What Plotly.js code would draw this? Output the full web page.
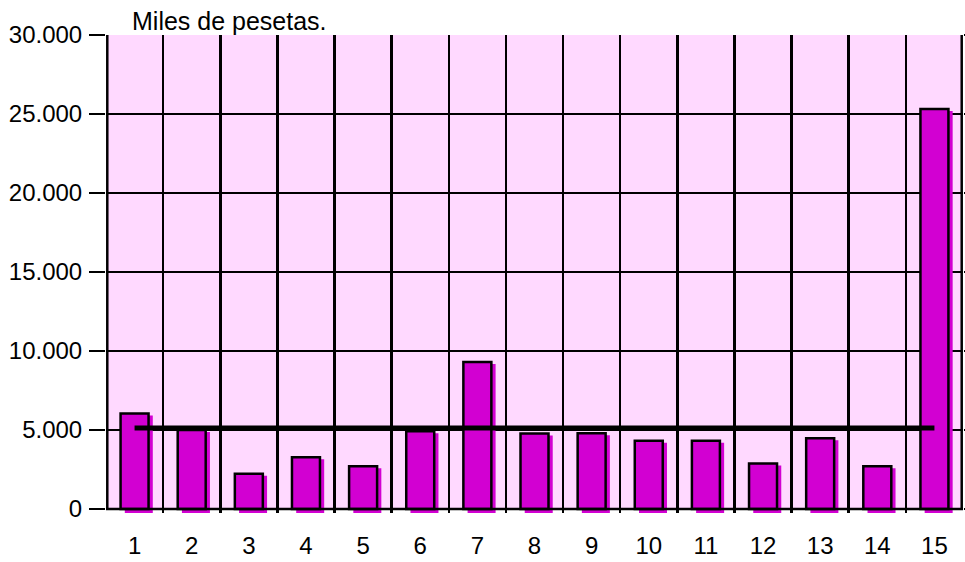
<!DOCTYPE html>
<html>
<head>
<meta charset="utf-8">
<script src="https://cdn.plot.ly/plotly-3.0.1.min.js"></script>
<style>html,body{margin:0;padding:0;background:#fff;}#chart{width:965px;height:562px;}</style>
</head>
<body>
<div id="chart"></div>
<script>
// Data
const categorias = ["1","2","3","4","5","6","7","8","9","10","11","12","13","14","15"];
const valores = [6050, 5000, 2230, 3280, 2710, 4920, 9310, 4780, 4800, 4330, 4330, 2880, 4480, 2710, 25310];
const lineaMedia = [5130, 5130, 5130, 5130, 5130, 5130, 5130, 5130, 5130, 5130, 5130, 5130, 5130, 5130, 5130];
const tituloY = "Miles de pesetas.";
const yTicks = [0, 5000, 10000, 15000, 20000, 25000, 30000];

const yMin = -250, yMax = 30000;
const barColor = "#D200D2";
const bgPink = "#FFD9FF";
const font = {family: "Liberation Sans, Arial, sans-serif", size: 24, color: "#000"};
const titleFont = {family: "Liberation Sans, Arial, sans-serif", size: 25, color: "#000"};

const barW = 0.49;
const shadowTop = valores.map(v => v - 127);

const traces = [
  { // shadow
    type: "bar", x: categorias, y: shadowTop.map(v => v - yMin), base: yMin,
    width: barW, offset: -barW/2 + 0.074,
    marker: {color: barColor, line: {width: 0}},
    hoverinfo: "skip", showlegend: false
  },
  {
    type: "bar", x: categorias, y: valores,
    width: barW, offset: -barW/2,
    marker: {color: barColor, line: {color: "#000", width: 2.5}},
    showlegend: false
  },
  {
    type: "scatter", mode: "lines", x: categorias, y: lineaMedia,
    line: {color: "#000", width: 5},
    showlegend: false
  }
];

const layout = {
  width: 965, height: 562,
  margin: {l: 106, r: 2, t: 35, b: 49, pad: 0},
  paper_bgcolor: "#fff",
  plot_bgcolor: "#fff",
  separators: ",.",
  font: font,
  barmode: "overlay",
  showlegend: false,
  xaxis: {
    type: "category",
    tickson: "boundaries",
    showgrid: true, gridcolor: "#000", gridwidth: 2.5,
    zeroline: false, showline: false,
    ticks: "outside", ticklen: 0, tickcolor: "rgba(0,0,0,0)",
    ticklabelstandoff: 16,
    tickfont: font,
    range: [-0.5, categorias.length - 0.5]
  },
  yaxis: {
    range: [yMin, yMax],
    tickvals: yTicks,
    tickformat: ",d",
    showgrid: true, gridcolor: "#000", gridwidth: 2.5,
    zeroline: false, showline: false,
    ticks: "outside", ticklen: 16, tickwidth: 2.5, tickcolor: "#000",
    mirror: "ticks",
    ticklabelstandoff: 2,
    tickfont: font
  },
  shapes: [
    {type: "rect", xref: "paper", yref: "y", x0: 0, x1: 1, y0: 0, y1: yMax,
     fillcolor: bgPink, line: {width: 0}, layer: "below"},
    {type: "line", xref: "paper", yref: "y", x0: 0.0015, x1: 0.0015, y0: 0, y1: yMax,
     line: {color: "#000", width: 2.5}, layer: "below"},
    {type: "line", xref: "paper", yref: "y", x0: 0.9985, x1: 0.9985, y0: 0, y1: yMax,
     line: {color: "#000", width: 2.5}, layer: "below"},
    {type: "rect", xref: "paper", yref: "y", x0: -0.01, x1: 1.01, y0: yMin, y1: 0,
     fillcolor: "#fff", line: {width: 0}, layer: "between"},
    {type: "line", xref: "paper", yref: "y", x0: 0, x1: 1, y0: 0, y1: 0,
     line: {color: "#000", width: 2.5}, layer: "above"}
  ],
  annotations: [
    {text: tituloY, xref: "paper", yref: "paper", x: 0.028, y: 1,
     xanchor: "left", yanchor: "bottom", showarrow: false, font: titleFont, yshift: -2}
  ]
};

Plotly.newPlot("chart", traces, layout, {displayModeBar: false, staticPlot: true});
</script>
</body>
</html>
